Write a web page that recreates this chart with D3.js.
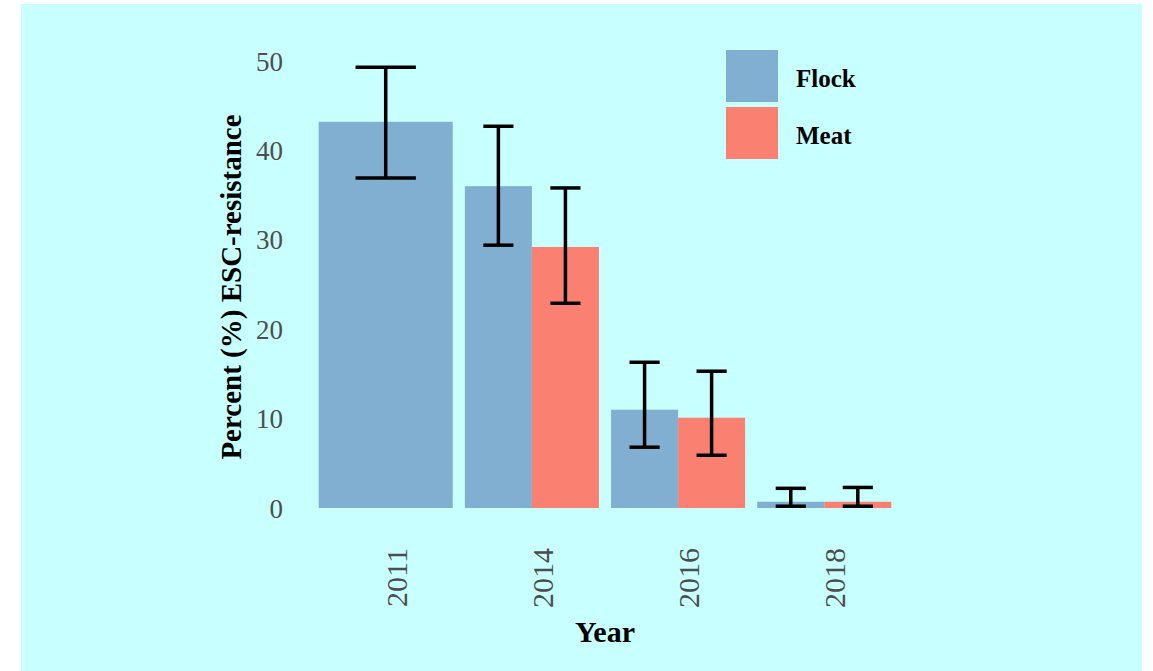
<!DOCTYPE html>
<html>
<head>
<meta charset="utf-8">
<title>ESC-resistance by year</title>
<script src="https://cdnjs.cloudflare.com/ajax/libs/d3/7.8.5/d3.min.js"></script>
<style>
  body { margin: 0; background: #fff; }
  svg text { font-family: "Liberation Serif", "DejaVu Serif", serif; }
</style>
</head>
<body>
<div id="chart"></div>
<script>
// values (percent, with lower / upper error limits)
var years = ["2011", "2014", "2016", "2018"];
var groups = ["Flock", "Meat"];
var flockPct  = [43.2, 36.0, 11.0, 0.7];
var flockLow  = [36.9, 29.4, 6.8, 0.2];
var flockHigh = [49.3, 42.7, 16.3, 2.2];
var meatPct  = [null, 29.2, 10.1, 0.7];
var meatLow  = [null, 22.9, 5.9, 0.2];
var meatHigh = [null, 35.8, 15.3, 2.3];
var yTicks = [0, 10, 20, 30, 40, 50];

var colors = { Flock: "#80afd2", Meat: "#fa8072" };

var width = 1153, height = 671;

var svg = d3.select("#chart").append("svg")
    .attr("width", width)
    .attr("height", height);

// panel background
svg.append("rect")
    .attr("x", 21).attr("y", 4)
    .attr("width", 1121).attr("height", height - 4)
    .attr("fill", "#c8ffff");

var x = d3.scaleBand()
    .domain(years)
    .range([298, 912])
    .paddingInner(0.083)
    .paddingOuter(0.1415);

var y = d3.scaleLinear()
    .domain([0, 50])
    .range([508, 61]);

// one row per bar
var rows = [];
years.forEach(function(yr, i) {
    var present = [];
    if (flockPct[i] != null) present.push({ g: "Flock", v: flockPct[i], lo: flockLow[i], hi: flockHigh[i] });
    if (meatPct[i] != null) present.push({ g: "Meat", v: meatPct[i], lo: meatLow[i], hi: meatHigh[i] });
    var inner = d3.scaleBand()
        .domain(present.map(function(d) { return d.g; }))
        .range([x(yr), x(yr) + x.bandwidth()]);
    present.forEach(function(d) {
        d.year = yr;
        d.x0 = inner(d.g);
        d.w = inner.bandwidth();
        rows.push(d);
    });
});

svg.append("g").selectAll("rect")
    .data(rows)
    .enter().append("rect")
    .attr("x", function(d) { return d.x0; })
    .attr("width", function(d) { return d.w; })
    .attr("y", function(d) { return y(d.v); })
    .attr("height", function(d) { return y(0) - y(d.v); })
    .attr("fill", function(d) { return colors[d.g]; });

// error bars
var eb = svg.append("g")
    .attr("stroke", "#000")
    .attr("stroke-width", 3.5)
    .selectAll("g")
    .data(rows)
    .enter().append("g");

eb.append("line")
    .attr("x1", function(d) { return d.x0 + d.w / 2; })
    .attr("x2", function(d) { return d.x0 + d.w / 2; })
    .attr("y1", function(d) { return y(d.lo); })
    .attr("y2", function(d) { return y(d.hi); });

["lo", "hi"].forEach(function(k) {
    eb.append("line")
        .attr("x1", function(d) { return d.x0 + d.w * 0.275; })
        .attr("x2", function(d) { return d.x0 + d.w * 0.725; })
        .attr("y1", function(d) { return y(d[k]); })
        .attr("y2", function(d) { return y(d[k]); });
});

// y axis (labels only)
var yAxis = svg.append("g")
    .attr("transform", "translate(283,0)")
    .call(d3.axisLeft(y).tickValues(yTicks).tickSize(0).tickPadding(0));
yAxis.select(".domain").remove();
yAxis.selectAll("text")
    .attr("fill", "#4d4d4d")
    .style("font-size", "27px")
    .attr("dy", "0.34em");

// x axis (rotated labels only)
var xAxis = svg.append("g")
    .attr("transform", "translate(0,548)")
    .call(d3.axisBottom(x).tickSize(0).tickPadding(0));
xAxis.select(".domain").remove();
xAxis.selectAll("text")
    .attr("fill", "#4d4d4d")
    .style("font-size", "30px")
    .attr("text-anchor", "end")
    .attr("transform", "translate(11,0) rotate(-90)")
    .attr("x", 0)
    .attr("y", 0)
    .attr("dy", "0.34em");

// axis titles
svg.append("text")
    .attr("x", 605).attr("y", 642)
    .attr("text-anchor", "middle")
    .style("font-size", "30px")
    .style("font-weight", "bold")
    .text("Year");

svg.append("text")
    .attr("transform", "translate(241,287) rotate(-90)")
    .attr("text-anchor", "middle")
    .style("font-size", "29px")
    .style("font-weight", "bold")
    .text("Percent (%) ESC-resistance");

// legend
var legend = svg.append("g").selectAll("g")
    .data(groups)
    .enter().append("g")
    .attr("transform", function(d, i) { return "translate(726," + (50 + i * 57) + ")"; });

legend.append("rect")
    .attr("width", 52).attr("height", 52)
    .attr("fill", function(d) { return colors[d]; });

legend.append("text")
    .attr("x", 70).attr("y", 28)
    .attr("dy", "0.34em")
    .style("font-size", "25px")
    .style("font-weight", "bold")
    .text(function(d) { return d; });
</script>
</body>
</html>
